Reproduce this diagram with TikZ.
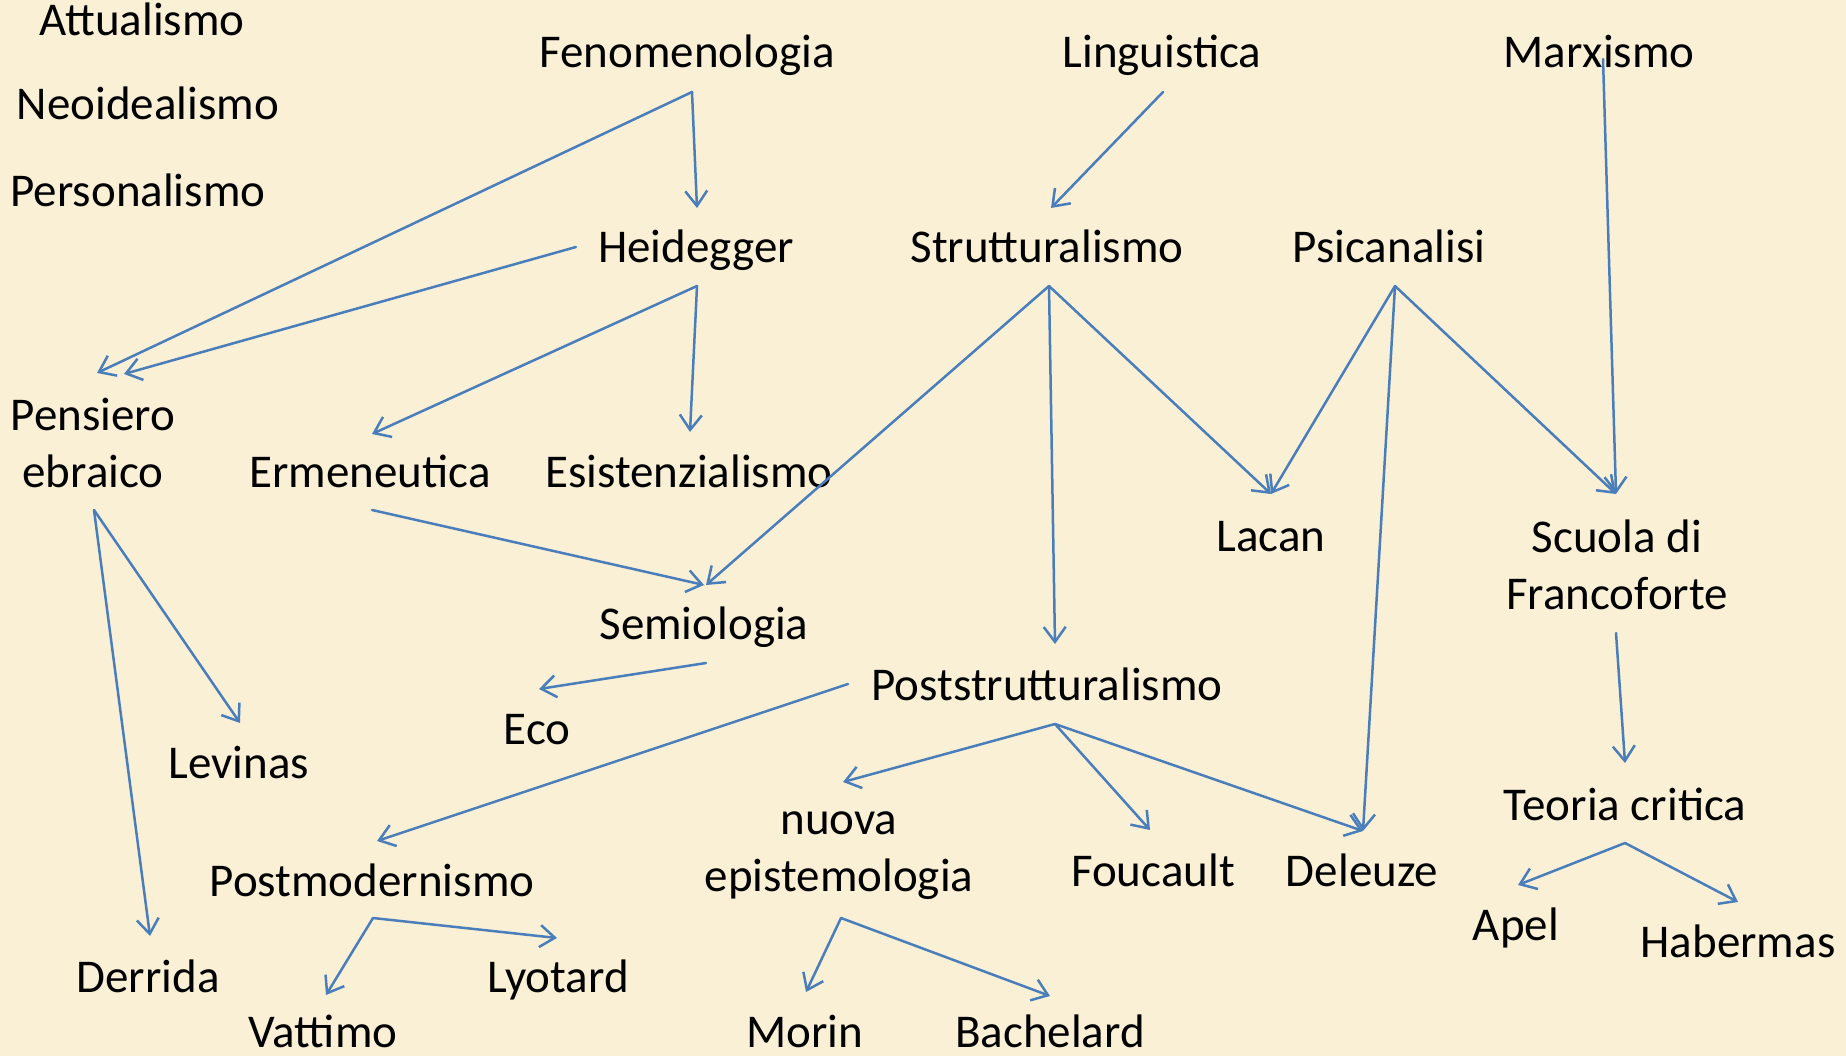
\documentclass[tikz,border=0pt]{standalone}
\usepackage{fontspec}
\setmainfont{Carlito}
\usetikzlibrary{arrows.meta}
\definecolor{bgc}{RGB}{250,240,214}
\definecolor{arrowc}{RGB}{74,126,187}
\tikzset{
  lbl/.style={font=\fontsize{47}{57}\selectfont, inner sep=0pt, text height=30pt, text depth=0pt},
  lbltwo/.style={font=\fontsize{47}{57}\selectfont, inner sep=0pt, align=center},
  conn/.style={draw=arrowc, line width=2.5pt, line cap=round, -{Straight Barb[length=15pt,width=22pt,line width=2.5pt]}}
}
\begin{document}
\begin{tikzpicture}[x=1pt,y=-1pt]
\path[fill=bgc,use as bounding box] (0,0) rectangle (1846,1056);
% nodes
\node[lbl] (att) at (142,21) {Attualismo};
\node[lbl] (neo) at (148,105) {Neoidealismo};
\node[lbl] (pers) at (138,192) {Personalismo};
\node[lbl] (fen) at (687,53) {Fenomenologia};
\node[lbl] (ling) at (1162,53) {Linguistica};
\node[lbl] (marx) at (1599,53) {Marxismo};
\node[lbl] (heid) at (696,248) {Heidegger};
\node[lbl] (strut) at (1047,248) {Strutturalismo};
\node[lbl] (psi) at (1389,248) {Psicanalisi};
\node[lbltwo] (pens) at (93,443) {Pensiero\\ebraico};
\node[lbl] (erm) at (370,472) {Ermeneutica};
\node[lbl] (esi) at (689,472) {Esistenzialismo};
\node[lbl] (lacan) at (1271,536) {Lacan};
\node[lbltwo] (scuola) at (1617,565) {Scuola di\\Francoforte};
\node[lbl] (semio) at (704,624) {Semiologia};
\node[lbl] (eco) at (537,729) {Eco};
\node[lbl] (post) at (1047,685) {Poststrutturalismo};
\node[lbl] (lev) at (239,763) {Levinas};
\node[lbl] (teoria) at (1625,805) {Teoria critica};
\node[lbltwo] (nuova) at (839,856) {nuova\\epistemologia};
\node[lbl] (fouc) at (1153,871) {Foucault};
\node[lbl] (del) at (1362,871) {Deleuze};
\node[lbl] (pomo) at (372,881) {Postmodernismo};
\node[lbl] (apel) at (1516,925) {Apel};
\node[lbl] (hab) at (1738,942) {Habermas};
\node[lbl] (der) at (148,977) {Derrida};
\node[lbl] (lyo) at (558,977) {Lyotard};
\node[lbl] (vat) at (323,1032) {Vattimo};
\node[lbl] (mor) at (805,1032) {Morin};
\node[lbl] (bach) at (1050,1032) {Bachelard};
% connectors
\draw[conn] ([shift={(5,39)}]fen.center) -- ([shift={(1,-40)}]heid.center);
\draw[conn] ([shift={(5,39)}]fen.center) -- ([shift={(4,-70)}]pens.center);
\draw[conn] ([shift={(-120,-1)}]heid.center) -- ([shift={(31,-69)}]pens.center);
\draw[conn] ([shift={(1,38)}]heid.center) -- ([shift={(2,-38)}]erm.center);
\draw[conn] ([shift={(1,38)}]heid.center) -- ([shift={(1,-40)}]esi.center);
\draw[conn] ([shift={(1,39)}]ling.center) -- ([shift={(4,-40)}]strut.center);
\draw[conn] ([shift={(4,6)}]marx.center) -- ([shift={(-1,-71)}]scuola.center);
\draw[conn] ([shift={(2,38)}]strut.center) -- ([shift={(2,-39)}]semio.center);
\draw[conn] ([shift={(2,38)}]strut.center) -- ([shift={(8,-41)}]post.center);
\draw[conn] ([shift={(2,38)}]strut.center) -- ([shift={(0,-42)}]lacan.center);
\draw[conn] ([shift={(6,38)}]psi.center) -- ([shift={(0,-42)}]lacan.center);
\draw[conn] ([shift={(6,38)}]psi.center) -- ([shift={(1,-40)}]del.center);
\draw[conn] ([shift={(6,38)}]psi.center) -- ([shift={(-1,-71)}]scuola.center);
\draw[conn] ([shift={(1,67)}]pens.center) -- ([shift={(1,-40)}]lev.center);
\draw[conn] ([shift={(1,67)}]pens.center) -- ([shift={(2,-41)}]der.center);
\draw[conn] ([shift={(2,38)}]erm.center) -- ([shift={(0,-39)}]semio.center);
\draw[conn] ([shift={(2,39)}]semio.center) -- ([shift={(2,-40)}]eco.center);
\draw[conn] ([shift={(-199,-1)}]post.center) -- ([shift={(5,-40)}]pomo.center);
\draw[conn] ([shift={(8,39)}]post.center) -- ([shift={(4,-74)}]nuova.center);
\draw[conn] ([shift={(8,39)}]post.center) -- ([shift={(-3,-41)}]fouc.center);
\draw[conn] ([shift={(8,39)}]post.center) -- ([shift={(1,-40)}]del.center);
\draw[conn] ([shift={(-1,68)}]scuola.center) -- ([shift={(0,-42)}]teoria.center);
\draw[conn] ([shift={(0,38)}]teoria.center) -- ([shift={(2,-40)}]apel.center);
\draw[conn] ([shift={(0,38)}]teoria.center) -- ([shift={(0,-40)}]hab.center);
\draw[conn] ([shift={(1,37)}]pomo.center) -- ([shift={(3,-37)}]vat.center);
\draw[conn] ([shift={(1,37)}]pomo.center) -- ([shift={(-1,-39)}]lyo.center);
\draw[conn] ([shift={(2,62)}]nuova.center) -- ([shift={(1,-40)}]mor.center);
\draw[conn] ([shift={(2,62)}]nuova.center) -- ([shift={(0,-36)}]bach.center);
\end{tikzpicture}
\end{document}
